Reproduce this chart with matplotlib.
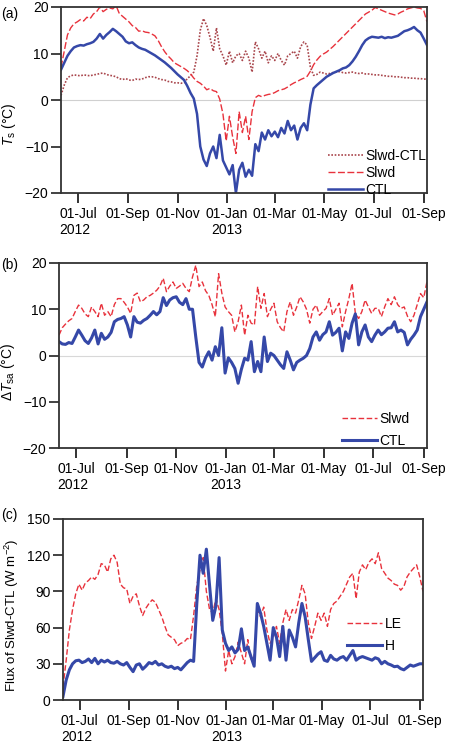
import numpy as np
import pandas as pd
import matplotlib
matplotlib.use("Agg")
import matplotlib.pyplot as plt

plt.rcParams['font.family'] = ['Liberation Sans', 'DejaVu Sans']
plt.rcParams['mathtext.fontset'] = 'custom'
plt.rcParams['mathtext.rm'] = 'Liberation Sans'
plt.rcParams['mathtext.it'] = 'Liberation Sans:italic'

# 4-day sampled series, 10 Jun 2012 -> 5 Sep 2013
dates = pd.date_range('2012-06-10', periods=114, freq='4D')

# (a) surface temperature Ts
ts_ctl = [6.5, 8.0, 9.5, 10.5, 11.3, 11.6, 11.8, 11.7, 12.0, 12.2,
          12.5, 13.2, 14.2, 13.2, 14.0, 14.6, 15.3, 14.8, 14.2, 13.6,
          12.6, 12.2, 12.4, 11.8, 11.3, 11.0, 10.8, 10.4, 10.0, 9.6,
          9.1, 8.6, 8.1, 7.5, 6.9, 6.2, 5.5, 4.9, 4.3, 3.0,
          1.5, 0.3, -3.0, -10.0, -12.8, -14.2, -11.5, -10.0, -12.5, -7.5,
          -13.0, -14.5, -16.0, -14.0, -20.0, -15.0, -13.5, -16.5, -15.0, -16.3,
          -9.5, -11.0, -7.0, -8.5, -6.5, -7.8, -6.8, -8.0, -6.0, -7.2,
          -4.5, -6.5, -5.5, -8.5, -6.0, -5.0, -6.5, -1.0, 2.5, 3.2,
          3.8, 4.4, 5.0, 5.4, 5.8, 6.1, 6.4, 6.8, 7.0, 7.5,
          8.3, 9.3, 10.5, 11.8, 12.8, 13.3, 13.6, 13.5, 13.4, 13.6,
          13.3, 13.5, 13.4, 13.6, 13.8, 14.3, 14.8, 15.0, 15.3, 15.7,
          15.0, 14.5, 13.2, 11.8]
ts_slwd = [7.0, 10.5, 14.0, 15.5, 16.4, 16.8, 17.3, 17.0, 17.8, 17.5,
           18.5, 19.0, 20.0, 19.0, 19.5, 19.8, 19.6, 20.3, 18.6, 18.0,
           17.4, 16.8, 16.0, 15.6, 14.8, 14.9, 14.6, 14.5, 14.2, 13.8,
           12.8, 11.5, 10.4, 9.5, 8.8, 8.0, 7.6, 7.2, 6.8, 6.3,
           5.6, 4.7, 4.0, 3.6, 3.0, 2.2, 2.5, 2.0, 1.8, 0.2,
           -3.0, -8.8, -3.5, -8.0, -11.5, -2.5, -7.0, -3.5, -8.5, -2.5,
           0.5, 1.0, 0.7, 1.0, 1.2, 1.3, 1.6, 2.0, 2.2, 2.4,
           2.8, 3.3, 3.7, 4.0, 4.4, 4.7, 5.1, 6.2, 7.6, 8.6,
           9.4, 9.9, 10.3, 10.9, 11.5, 12.2, 12.9, 13.6, 14.3, 15.0,
           15.7, 16.4, 17.1, 17.8, 18.5, 18.9, 19.3, 19.9, 19.6, 19.3,
           19.0, 18.7, 18.5, 18.3, 18.5, 18.9, 19.2, 19.6, 19.8, 20.0,
           19.8, 19.7, 19.2, 16.8]
ts_diff = [1.0, 3.2, 4.8, 5.2, 5.4, 5.3, 5.2, 5.4, 5.3, 5.2,
           5.4, 5.5, 5.7, 5.8, 5.5, 5.3, 5.2, 5.0, 4.6, 4.4,
           4.6, 4.3, 4.2, 4.5, 4.4, 4.5, 4.8, 5.0, 5.0, 4.9,
           4.6, 4.4, 4.3, 4.0, 3.9, 3.7, 3.7, 3.6, 3.7, 4.6,
           5.2, 6.0, 9.5, 15.0, 17.5, 16.0, 13.5, 10.5, 15.5, 11.0,
           9.5, 7.5, 10.5, 8.0, 9.5, 10.0, 8.5, 10.5, 9.0, 6.0,
           12.5, 11.0, 9.0, 10.5, 8.0, 9.5, 8.5, 10.0, 8.5, 7.5,
           9.5, 10.0, 10.5, 9.0, 11.5, 12.5, 11.8, 7.0, 5.3, 5.5,
           6.0, 5.8, 5.6, 5.7, 5.9, 6.0, 6.1, 5.9, 5.8, 5.9,
           6.0, 5.8, 5.7, 5.8, 5.6, 5.6, 5.5, 5.4, 5.4, 5.3,
           5.2, 5.1, 5.1, 5.0, 5.0, 4.9, 4.8, 4.8, 4.7, 4.7,
           4.6, 4.6, 4.5, 4.5]

# (b) surface-air temperature difference
dtsa_ctl = [3.0, 2.5, 2.4, 2.8, 2.6, 4.0, 5.5, 4.4, 3.2, 2.6,
            3.8, 5.5, 2.5, 4.8, 3.5, 4.0, 5.0, 7.3, 7.8, 8.0,
            8.4, 6.6, 4.0, 8.4, 7.2, 7.0, 7.6, 8.0, 8.7, 9.5,
            8.8, 9.5, 12.5, 10.8, 12.0, 12.5, 12.7, 11.5, 11.0, 12.3,
            10.0, 10.0, 4.0, -1.5, -2.5, -0.5, 0.8, -1.0, 1.9, 0.0,
            6.0, -3.8, -0.5, -1.5, -2.8, -6.0, -3.0, -0.6, -1.0, 3.0,
            -3.5, -1.3, -3.5, 4.0, -1.3, 0.5, 0.0, -1.0, -2.0, -2.8,
            0.8, -1.0, -3.1, -1.5, -1.0, -0.6, 0.0, 1.5, 4.0, 5.1,
            3.3, 4.5, 5.1, 7.3, 4.4, 5.0, 5.9, 1.0, 5.1, 3.7,
            7.0, 9.0, 2.3, 5.1, 6.6, 4.0, 3.0, 4.4, 5.5, 4.5,
            5.1, 5.9, 6.0, 7.3, 5.1, 5.5, 5.0, 2.3, 3.5, 4.4,
            5.5, 8.4, 10.0, 11.6]
dtsa_slwd = [4.4, 6.0, 6.8, 7.5, 8.0, 9.5, 10.9, 10.2, 9.0, 8.4,
             10.5, 9.5, 8.4, 11.3, 8.7, 9.5, 8.4, 11.0, 12.3, 12.3,
             11.5, 10.5, 9.1, 13.0, 13.5, 11.6, 12.0, 12.7, 13.0, 13.5,
             14.1, 15.0, 16.7, 13.8, 15.0, 15.9, 14.5, 15.0, 15.6, 14.5,
             13.8, 17.0, 19.5, 14.9, 15.9, 14.0, 13.0, 11.0, 8.4, 17.7,
             13.5, 10.5, 9.5, 8.7, 5.1, 7.3, 10.9, 4.4, 8.7, 7.0,
             6.6, 14.9, 10.2, 13.4, 8.4, 10.0, 11.3, 7.3, 6.0, 5.1,
             9.5, 11.6, 8.7, 10.5, 12.7, 11.6, 10.0, 7.0, 10.0, 10.9,
             8.7, 9.5, 10.2, 12.3, 8.7, 10.0, 11.3, 6.2, 9.5, 12.3,
             15.6, 9.1, 8.0, 9.5, 12.0, 10.5, 9.1, 10.2, 10.2, 8.4,
             10.5, 12.3, 11.0, 12.7, 11.0, 10.2, 10.5, 8.5, 7.3, 8.7,
             11.0, 13.4, 12.5, 16.0]

# (c) flux difference Slwd-CTL
flux_le = [11, 33, 58, 75, 88, 96, 91, 97, 99, 102,
           100, 104, 113, 112, 106, 117, 120, 114, 96, 93,
           92, 80, 86, 88, 78, 70, 76, 80, 83, 81,
           75, 69, 61, 54, 52, 50, 45, 47, 48, 51,
           50, 70, 95, 108, 118, 90, 75, 72, 84, 75,
           55, 24, 41, 30, 36, 48, 39, 30, 50, 33,
           36, 75, 69, 77, 58, 47, 52, 61, 47, 64,
           75, 66, 75, 72, 83, 95, 88, 64, 51, 61,
           72, 66, 72, 61, 75, 80, 82, 86, 90, 96,
           102, 105, 84, 106, 112, 108, 114, 117, 113, 122,
           109, 105, 101, 99, 96, 95, 91, 94, 102, 106,
           109, 112, 102, 90]
flux_h = [3, 16.6, 25, 30, 32.5, 33, 31, 32, 34, 31,
          34.5, 30, 33, 31.5, 33, 31, 30.5, 32, 30, 29,
          31, 27, 23.5, 29, 30, 25.5, 28, 31, 30, 32,
          29, 30, 28, 27, 28, 26, 27, 25, 28, 31,
          33, 32, 80, 120, 105, 125, 95, 66, 78, 118,
          58, 47, 41, 44, 39, 42, 59, 41, 44, 36,
          28, 80, 72, 61, 47, 33, 60, 52, 36, 61,
          33, 58, 52, 44, 64, 80, 69, 50, 32, 35,
          38, 40, 33, 32, 37, 34, 33, 35, 36, 33,
          37, 41, 33, 35, 36, 35, 34, 33, 35, 34,
          30, 32, 30, 29, 27.6, 28, 26, 25, 27, 29,
          28, 29, 30, 30]

tick_dates = pd.to_datetime(['2012-07-01', '2012-09-01', '2012-11-01', '2013-01-01',
                             '2013-03-01', '2013-05-01', '2013-07-01', '2013-09-01'])
tick_labels = ['01-Jul\n2012', '01-Sep', '01-Nov', '01-Jan\n2013',
               '01-Mar', '01-May', '01-Jul', '01-Sep']

BLUE = '#3548a8'
RED = '#e8323c'
DOT = '#a9464c'
FRAME = '#333333'

fig = plt.figure(figsize=(4.59, 7.48), dpi=100)
ax_a = fig.add_axes([61/459, 1-193/748, 366/459, 186/748])
ax_b = fig.add_axes([59/459, 1-448/748, 368/459, 185/748])
ax_c = fig.add_axes([63/459, 1-700/748, 360/459, 181/748])


def style_axis(ax):
    ax.set_xlim(pd.Timestamp('2012-06-10'), pd.Timestamp('2013-09-05'))
    ax.set_xticks(tick_dates)
    ax.set_xticklabels(tick_labels, fontsize=10)
    ax.get_xticklabels()[0].set_multialignment('left')
    ax.tick_params(axis='x', direction='out', length=7, width=1.3, pad=3, color='#222222')
    ax.tick_params(axis='y', direction='out', length=7, width=1.2, pad=2, labelsize=10,
                   color='#222222')
    for s in ax.spines.values():
        s.set_color(FRAME)
        s.set_linewidth(1.3)


leg_kw = dict(frameon=False, fontsize=10, borderpad=0, borderaxespad=0,
              handletextpad=0.2, handlelength=2.5)

# (a)
ax_a.axhline(0, color='#d0d0d0', lw=0.8, zorder=0)
ax_a.plot(dates, ts_diff, color=DOT, lw=1.2, dashes=(1, 1), label='Slwd-CTL')
ax_a.plot(dates, ts_slwd, color=RED, lw=1.0, dashes=(5, 1.8), label='Slwd')
ax_a.plot(dates, ts_ctl, color=BLUE, lw=1.8, label='CTL')
ax_a.set_ylim(-20, 20)
ax_a.set_yticks([-20, -10, 0, 10, 20])
style_axis(ax_a)
ax_a.set_ylabel(r'$T_\mathrm{s}$ (°C)', fontsize=10)
ax_a.yaxis.set_label_coords(-0.117, 0.37)
ax_a.legend(loc='lower left', bbox_to_anchor=(0.73, -0.02), labelspacing=0.2, **leg_kw)
fig.text(1/459, 1-14/748, '(a)', fontsize=10, va='center')

# (b)
ax_b.axhline(0, color='#d8d8d8', lw=0.8, zorder=0)
ax_b.plot(dates, dtsa_slwd, color=RED, lw=1.0, dashes=(4, 1.8), label='Slwd')
ax_b.plot(dates, dtsa_ctl, color=BLUE, lw=2.2, label='CTL')
ax_b.set_ylim(-20, 20)
ax_b.set_yticks([-20, -10, 0, 10, 20])
style_axis(ax_b)
ax_b.set_ylabel('Δ$T_\\mathrm{sa}$ (°C)', fontsize=10)
ax_b.yaxis.set_label_coords(-0.114, 0.41)
ax_b.legend(loc='lower left', bbox_to_anchor=(0.769, 0.0), labelspacing=0.55, **leg_kw)
fig.text(1/459, 1-265/748, '(b)', fontsize=10, va='center')

# (c)
ax_c.plot(dates, flux_le, color=RED, lw=1.0, dashes=(4, 1.8), label='LE')
ax_c.plot(dates, flux_h, color=BLUE, lw=2.2, label='H')
ax_c.set_ylim(0, 150)
ax_c.set_yticks([0, 30, 60, 90, 120, 150])
style_axis(ax_c)
ax_c.set_ylabel('Flux of Slwd-CTL (W m$^{-2}$)', fontsize=9.5)
ax_c.yaxis.set_label_coords(-0.118, 0.47)
ax_c.legend(loc='lower left', bbox_to_anchor=(0.789, 0.26), labelspacing=0.6, **leg_kw)
fig.text(1/459, 1-515/748, '(c)', fontsize=10, va='center')

fig.savefig('out.png', dpi=100)
